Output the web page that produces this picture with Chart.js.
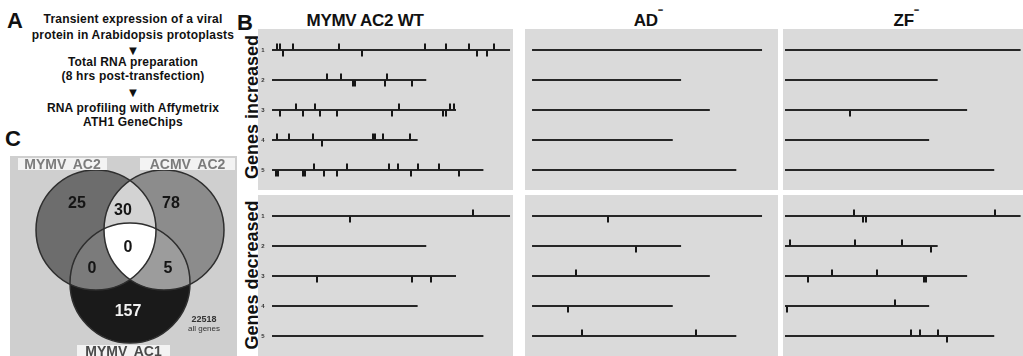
<!DOCTYPE html>
<html>
<head>
<meta charset="utf-8">
<script src="https://cdn.jsdelivr.net/npm/chart.js@4.4.1/dist/chart.umd.min.js"></script>
<style>
    body { margin: 0; background: #fff; width: 1023px; height: 356px; overflow: hidden; position: relative;
           font-family: "Liberation Sans", Arial, sans-serif; }
    .t { position: absolute; transform: translate(-50%, -50%); white-space: nowrap; font-weight: bold; color: #111; }
    .flow { font-size: 12px; letter-spacing: 0.2px; }
    .big { font-size: 22px; }
    .col { font-size: 17px; letter-spacing: -0.3px; }
    .col sup { font-size: 15px; line-height: 0; }
    .side { font-size: 18px; transform: translate(-50%, -50%) rotate(-90deg); }
    .lab { position: absolute; background: #f3f3f3; font-weight: bold; font-size: 14px; line-height: 12px;
           text-align: center; color: #7c7c7c; word-spacing: 3px; }
    canvas { position: absolute; }
</style>
</head>
<body>

<!-- panel A -->
<div class="t big" style="left:15px;top:21px">A</div>
<div class="t flow" style="left:133px;top:19px">Transient expression of a viral</div>
<div class="t flow" style="left:133px;top:35px">protein in Arabidopsis protoplasts</div>
<div class="t" style="left:133px;top:50px;font-size:13px">&#9660;</div>
<div class="t flow" style="left:133px;top:62px">Total RNA preparation</div>
<div class="t flow" style="left:133px;top:76px">(8 hrs post-transfection)</div>
<div class="t" style="left:133px;top:92px;font-size:13px">&#9660;</div>
<div class="t flow" style="left:133px;top:108px">RNA profiling with Affymetrix</div>
<div class="t flow" style="left:133px;top:122px">ATH1 GeneChips</div>

<!-- panel C -->
<div class="t big" style="left:13px;top:139px">C</div>
<canvas id="venn" width="227" height="200" style="left:10px;top:156px;background:#cfcfcf"></canvas>
<div class="lab" style="left:18px;top:158px;width:89px;height:12px">MYMV AC2</div>
<div class="lab" style="left:140px;top:158px;width:95px;height:12px">ACMV AC2</div>
<div class="lab" style="left:77px;top:345px;width:93px;height:11px;color:#4a4a4a">MYMV AC1</div>

<!-- panel B -->
<div class="t big" style="left:245px;top:23px">B</div>
<div class="t col" style="left:365px;top:21px">MYMV AC2 WT</div>
<div class="t col" style="left:648px;top:21px">AD<sup>&#8315;</sup></div>
<div class="t col" style="left:906px;top:21px">ZF<sup>&#8315;</sup></div>
<div class="t side" style="left:252px;top:107px">Genes increased</div>
<div class="t side" style="left:252px;top:275px">Genes decreased</div>

<canvas id="wtInc" width="255" height="161" style="left:258px;top:29px;background:#dadada"></canvas>
<canvas id="wtDec" width="255" height="161" style="left:258px;top:195px;background:#dadada"></canvas>
<canvas id="adInc" width="253" height="161" style="left:525px;top:29px;background:#dadada"></canvas>
<canvas id="adDec" width="253" height="161" style="left:525px;top:195px;background:#dadada"></canvas>
<canvas id="zfInc" width="240" height="161" style="left:783px;top:29px;background:#dadada"></canvas>
<canvas id="zfDec" width="240" height="161" style="left:783px;top:195px;background:#dadada"></canvas>

<script>
// Arabidopsis chromosomes and their lengths (Mb)
const chromosomes = ['1', '2', '3', '4', '5'];
const chromLengthMb = [30.4, 19.7, 23.5, 18.6, 27.0];

// gene positions (Mb) on each chromosome, marks drawn above / below the chromosome line
const wtIncAbove = [[0.6, 1.0, 2.7, 8.6, 19.5, 22.2, 25.2, 28.3], [7.0, 8.8, 14.7], [3.1, 5.5, 16.2, 22.7, 23.2], [0.7, 2.2, 5.2, 12.9, 13.2, 14.2, 17.6], [5.4, 9.6, 15.0, 16.1, 18.7, 21.3]];
const wtIncBelow = [[1.4, 11.5, 26.2, 27.4], [10.3, 10.6, 14.4, 17.9], [1.0, 4.0, 6.1, 8.3, 15.3, 21.9, 22.2], [6.4], [0.5, 0.8, 3.9, 4.2, 6.7, 8.3, 17.7, 23.9]];
const wtDecAbove = [[25.7], [], [], [], []];
const wtDecBelow = [[10.0], [], [5.8, 17.9, 20.3], [], []];
const adIncAbove = [[], [], [], [], []];
const adIncBelow = [[], [], [], [], []];
const adDecAbove = [[], [], [5.8], [], [6.6, 21.7]];
const adDecBelow = [[10.1], [13.8], [], [4.7], []];
const zfIncAbove = [[], [], [], [], []];
const zfIncBelow = [[], [], [8.4], [], []];
const zfDecAbove = [[8.9, 27.1], [0.6, 9.0, 15.1], [6.1, 11.9], [14.2], [16.3, 17.4, 19.7]];
const zfDecBelow = [[10.1, 10.4], [18.8], [3.0, 17.9, 18.2], [0.3], [20.9]];

// Venn diagram (panel C)
const vennSets = ['MYMV AC2', 'ACMV AC2', 'MYMV AC1'];
// regions: A only, B only, C only, A&B, A&C, B&C, A&B&C
const vennRegionCounts = [25, 78, 157, 30, 0, 5, 0];
const totalGenes = 22518;

// schematic layout of the Venn (in chart units)
const vennLayout = {
    circles: [[86, 74], [154, 74], [120, 127]],
    radius: 60,
    textAt: [[67, 48], [161, 48], [118, 156], [113, 55], [82, 113], [158, 113], [118, 92]],
    fills: ['#6d6d6d', '#8c8c8c', '#1a1a1a', '#d3d3d3', '#7b7b7b', '#9c9c9c', '#ffffff']
};

function markImage(above) {
    const c = document.createElement('canvas');
    c.width = 2;
    c.height = 15;
    const g = c.getContext('2d');
    g.fillStyle = '#151515';
    g.fillRect(0, above ? 1 : 8, 2, 6);
    return c;
}
const markUp = markImage(true);
const markDown = markImage(false);

function marksToPoints(list) {
    const pts = [];
    list.forEach((positions, i) => {
        positions.forEach(mb => pts.push({ x: mb, y: i + 1 }));
    });
    return pts;
}

const chromNumbers = {
    id: 'chromNumbers',
    afterDraw(chart) {
        const ctx = chart.ctx;
        const x = chart.scales.x.getPixelForValue(0) - 9;
        ctx.save();
        ctx.fillStyle = '#333';
        ctx.font = 'bold 6px "Liberation Sans", Arial';
        ctx.textAlign = 'center';
        ctx.textBaseline = 'middle';
        chromosomes.forEach((name, i) => {
            ctx.fillText(name, x, chart.scales.y.getPixelForValue(i + 1));
        });
        ctx.restore();
    }
};

function makeChromChart(id, xMin, xMax, above, below, withNumbers) {
    const datasets = chromLengthMb.map((len, i) => ({
        data: [{ x: 0, y: i + 1 }, { x: len, y: i + 1 }],
        showLine: true,
        borderColor: '#262626',
        borderWidth: 2,
        pointRadius: 0,
        order: 2
    }));
    datasets.push({ data: marksToPoints(above), pointStyle: markUp, pointRadius: 2, order: 1 });
    datasets.push({ data: marksToPoints(below), pointStyle: markDown, pointRadius: 2, order: 1 });

    new Chart(document.getElementById(id), {
        type: 'scatter',
        data: { datasets: datasets },
        options: {
            responsive: false,
            animation: false,
            events: [],
            layout: { padding: 0, autoPadding: false },
            plugins: { legend: { display: false }, tooltip: { enabled: false } },
            scales: {
                x: { type: 'linear', display: false, min: xMin, max: xMax },
                y: { type: 'linear', display: false, min: 0.3, max: 5.667, reverse: true }
            }
        },
        plugins: withNumbers ? [chromNumbers] : []
    });
}

makeChromChart('wtInc', -1.79, 30.78, wtIncAbove, wtIncBelow, true);
makeChromChart('wtDec', -1.79, 30.78, wtDecAbove, wtDecBelow, true);
makeChromChart('adInc', -0.93, 32.51, adIncAbove, adIncBelow, false);
makeChromChart('adDec', -0.93, 32.51, adDecAbove, adDecBelow, false);
makeChromChart('zfInc', -0.26, 30.71, zfIncAbove, zfIncBelow, false);
makeChromChart('zfDec', -0.26, 30.71, zfDecAbove, zfDecBelow, false);

// Venn regions are filled under the bubble outlines
const vennFill = {
    id: 'vennFill',
    beforeDatasetsDraw(chart) {
        const ctx = chart.ctx;
        const pts = chart.getDatasetMeta(0).data;
        const circle = (p) => {
            ctx.beginPath();
            ctx.arc(p.x, p.y, p.options.radius, 0, Math.PI * 2);
        };
        const fillIn = (clipIdx, fillIdx, color) => {
            ctx.save();
            clipIdx.forEach(k => { circle(pts[k]); ctx.clip(); });
            circle(pts[fillIdx]);
            ctx.fillStyle = color;
            ctx.fill();
            ctx.restore();
        };
        const f = vennLayout.fills;
        fillIn([], 0, f[0]);
        fillIn([], 1, f[1]);
        fillIn([], 2, f[2]);
        fillIn([0], 1, f[3]);
        fillIn([0], 2, f[4]);
        fillIn([1], 2, f[5]);
        fillIn([0, 1], 2, f[6]);
    },
    afterDatasetsDraw(chart) {
        const ctx = chart.ctx;
        const sx = chart.scales.x, sy = chart.scales.y;
        ctx.save();
        ctx.textAlign = 'center';
        ctx.textBaseline = 'middle';
        ctx.font = 'bold 16px "Liberation Sans", Arial';
        vennRegionCounts.forEach((n, i) => {
            ctx.fillStyle = i === 2 ? '#f2f2f2' : '#151515';
            const p = vennLayout.textAt[i];
            ctx.fillText(String(n), sx.getPixelForValue(p[0]), sy.getPixelForValue(p[1]));
        });
        ctx.fillStyle = '#333';
        ctx.font = 'bold 9px "Liberation Sans", Arial';
        ctx.fillText(String(totalGenes), sx.getPixelForValue(194), sy.getPixelForValue(164));
        ctx.font = '8px "Liberation Sans", Arial';
        ctx.fillText('all genes', sx.getPixelForValue(194), sy.getPixelForValue(173));
        ctx.restore();
    }
};

new Chart(document.getElementById('venn'), {
    type: 'bubble',
    data: {
        datasets: [{
            label: vennSets.join(' / '),
            data: vennLayout.circles.map(c => ({ x: c[0], y: c[1], r: vennLayout.radius })),
            backgroundColor: 'rgba(0,0,0,0)',
            borderColor: '#2e2e2e',
            borderWidth: 1.5
        }]
    },
    options: {
        responsive: false,
        animation: false,
        events: [],
        layout: { padding: 0, autoPadding: false },
        plugins: { legend: { display: false }, tooltip: { enabled: false } },
        scales: {
            x: { type: 'linear', display: false, min: 0, max: 227 },
            y: { type: 'linear', display: false, min: 0, max: 200, reverse: true }
        }
    },
    plugins: [vennFill]
});
</script>
</body>
</html>
